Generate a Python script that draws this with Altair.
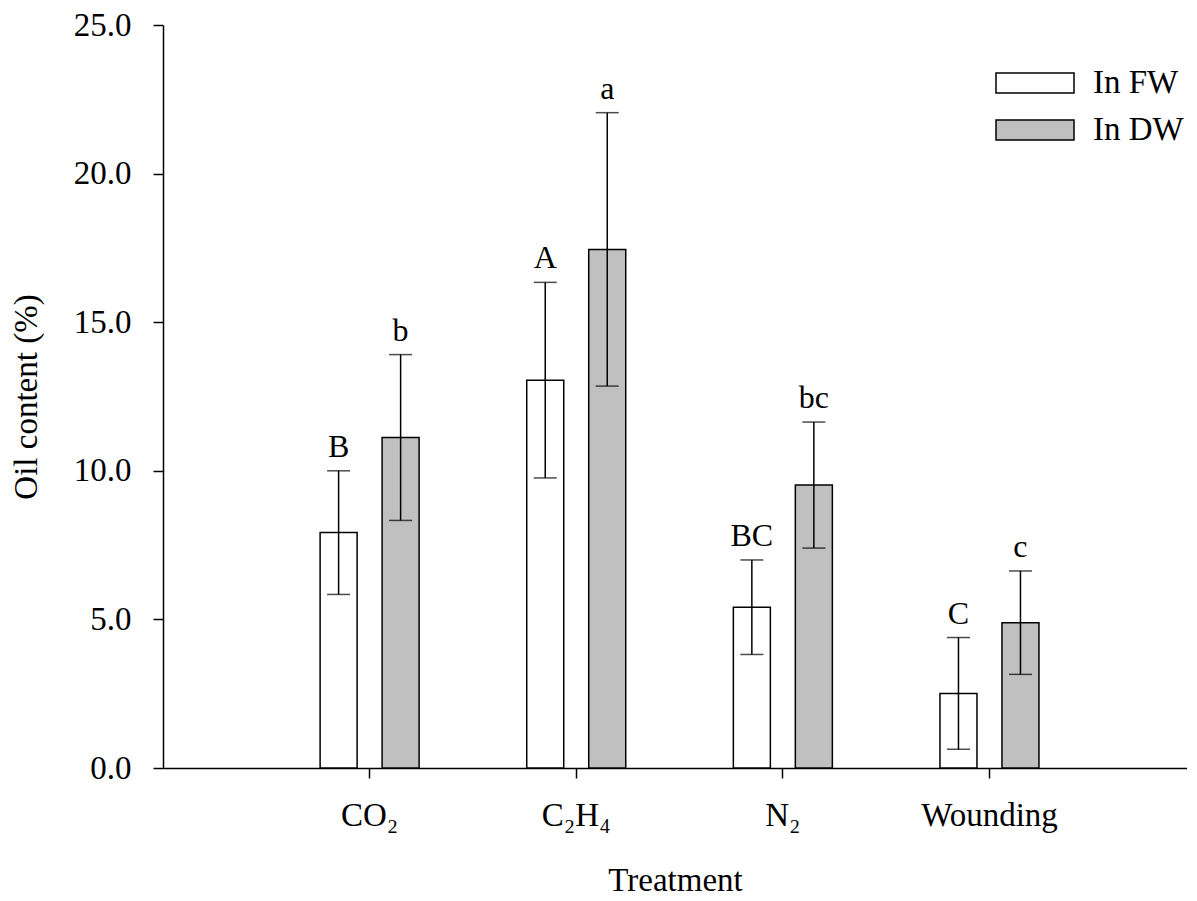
import altair as alt
import pandas as pd

treatments = ["CO₂", "C₂H₄", "N₂", "Wounding"]
series = ["In FW", "In DW"]
fw_mean = [7.92, 13.05, 5.41, 2.51]
fw_err = [2.08, 3.29, 1.59, 1.88]
dw_mean = [11.12, 17.45, 9.52, 4.89]
dw_err = [2.79, 4.60, 2.12, 1.74]
fw_letters = ["B", "A", "BC", "C"]
dw_letters = ["b", "a", "bc", "c"]
y_ticks = [0, 5, 10, 15, 20, 25]

rows = []
for i, t in enumerate(treatments):
    rows.append(dict(treatment=t, series="In FW", mean=fw_mean[i], err=fw_err[i], letter=fw_letters[i]))
    rows.append(dict(treatment=t, series="In DW", mean=dw_mean[i], err=dw_err[i], letter=dw_letters[i]))
df = pd.DataFrame(rows)

FONT = "Liberation Serif"
FS = 33

x = alt.X("treatment:N", sort=treatments,
          scale=alt.Scale(paddingInner=0, paddingOuter=0.478, align=0.523),
          axis=alt.Axis(title="Treatment", labelAngle=0, labelPadding=21, titlePadding=32))
xoff = alt.XOffset("series:N", sort=series,
                   scale=alt.Scale(domain=series, paddingInner=0.403, paddingOuter=0.868))
y_axis = alt.Axis(title="Oil content (%)", values=y_ticks, format=".1f",
                  labelPadding=22, titlePadding=30)
y_scale = alt.Scale(domain=[0, 25], nice=False)

base = alt.Chart(df).encode(x=x, xOffset=xoff).transform_calculate(
    lo="datum.mean - datum.err", hi="datum.mean + datum.err")

bars = base.mark_bar(stroke="black", strokeWidth=1.5).encode(
    y=alt.Y("mean:Q", scale=y_scale, axis=y_axis),
    color=alt.Color("series:N", sort=series,
                    scale=alt.Scale(domain=series, range=["#ffffff", "#c0c0c0"]),
                    legend=alt.Legend(title=None, orient="none", legendX=855.5, legendY=41.5,
                                      symbolType="M-2.6,-0.667H2.6V0.667H-2.6Z", symbolSize=900,
                                      symbolStrokeColor="black", symbolStrokeWidth=1.5,
                                      labelFont=FONT, labelFontSize=FS, labelColor="black",
                                      labelOffset=41.5, rowPadding=13, padding=0)),
)

rules = base.mark_rule(color="black", strokeWidth=1.5).encode(
    y=alt.Y("lo:Q", scale=y_scale, axis=y_axis), y2="hi:Q")
cap_hi = base.mark_tick(orient="horizontal", size=23, thickness=1.5, color="black").encode(
    y=alt.Y("hi:Q", scale=y_scale, axis=y_axis))
cap_lo = base.mark_tick(orient="horizontal", size=23, thickness=1.5, color="black").encode(
    y=alt.Y("lo:Q", scale=y_scale, axis=y_axis))
letters = base.mark_text(font=FONT, fontSize=32, baseline="alphabetic", dy=-14, color="black").encode(
    y=alt.Y("hi:Q", scale=y_scale, axis=y_axis), text="letter:N")

chart = alt.layer(bars, rules, cap_hi, cap_lo, letters).properties(
    width=1024, height=743,
    autosize=alt.AutoSizeParams(type="none"),
    padding={"left": 155, "top": 17, "right": 0, "bottom": 131},
).configure_view(strokeWidth=0).configure_axis(
    domainColor="black", domainWidth=1.5, tickColor="black", tickWidth=1.5, tickSize=10,
    labelFont=FONT, labelFontSize=FS, labelColor="black",
    titleFont=FONT, titleFontSize=FS, titleFontWeight="normal", titleColor="black",
    grid=False,
)

chart.save("out.html", embed_options={"renderer": "svg", "actions": False})
